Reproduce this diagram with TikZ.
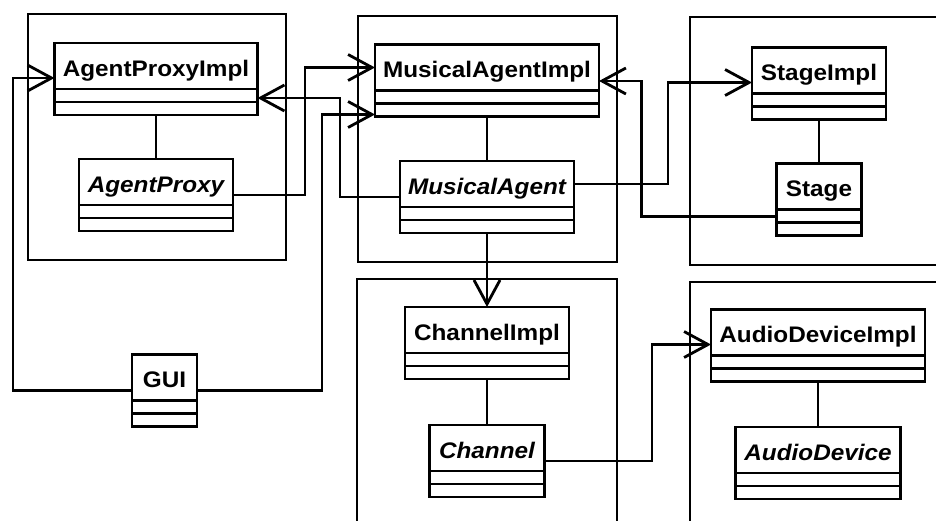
\documentclass[tikz,border=0pt]{standalone}
\usepackage{fontspec}
\setmainfont{Liberation Sans}[FakeStretch=1.08]
\usetikzlibrary{arrows.meta,positioning}

\begin{document}
\begin{tikzpicture}[x=1pt, y=-1pt,
    cls/.style={draw, line width=2.8pt, inner sep=0pt, outer sep=0pt, minimum height=46pt, text height=24pt, text depth=4pt, font=\fontsize{22.5}{24}\selectfont\bfseries},
    iface/.style={cls, font=\fontsize{22.5}{24}\selectfont\bfseries\itshape},
    pkg/.style={line width=2.8pt},
    link/.style={line width=2.8pt},
    arrow/.style={link, -{Straight Barb[length=24pt, width=26pt]}}
]
    \useasboundingbox (0,0) rectangle (936,520);
    \clip (0,0) rectangle (936,520);

    \draw[pkg] (28,14) rectangle (286,260);
    \draw[pkg] (358,16) rectangle (617,262);
    \draw[pkg] (690,17) rectangle (950,265);
    \draw[pkg] (357,279) rectangle (617,540);
    \draw[pkg] (690,282) rectangle (950,540);

    \node[cls, minimum width=203pt] (api) at (156,66) {AgentProxyImpl};
    \node[iface, minimum width=154pt] (ap) at (156,182) {AgentProxy};
    \node[cls, minimum width=224pt] (mai) at (487,67.5) {MusicalAgentImpl};
    \node[iface, minimum width=174pt] (ma) at (487,184) {MusicalAgent};
    \node[cls, minimum width=134pt] (si) at (819,70.5) {StageImpl};
    \node[cls, minimum width=85pt] (st) at (819,186.5) {Stage};
    \node[cls, minimum width=164pt] (ci) at (487,330) {ChannelImpl};
    \node[iface, minimum width=115pt] (ch) at (487,448) {Channel};
    \node[cls, minimum width=214pt] (adi) at (818,332.5) {AudioDeviceImpl};
    \node[iface, minimum width=165pt] (ad) at (818,450) {AudioDevice};
    \node[cls, minimum width=65pt] (gui) at (164.5,377.5) {GUI};

    \foreach \n in {api,ap,mai,ma,si,st,ci,ch,adi,ad,gui} {
        \draw[link] (\n.south west) rectangle ([yshift=-26pt]\n.south east);
        \draw[link] ([yshift=-13pt]\n.south west) -- ([yshift=-13pt]\n.south east);
    }

    \draw[link] ([yshift=-26pt]api.south) -- (ap.north);
    \draw[link] ([yshift=-26pt]mai.south) -- (ma.north);
    \draw[link] ([yshift=-26pt]si.south) -- (st.north);
    \draw[link] ([yshift=-26pt]ci.south) -- (ch.north);
    \draw[link] ([yshift=-26pt]adi.south) -- (ad.north);

    \draw[arrow] ([yshift=-13pt]gui.west) -- ++(-119,0) |- ([yshift=-12pt]api.west);
    \draw[arrow] ([yshift=-13pt]gui.east) -- ++(125,0) |- ([yshift=-47pt]mai.west);
    \draw[arrow] ([yshift=-13pt]ap.east) -- ++(72,0) |- (mai.west);
    \draw[arrow] ([yshift=-13pt]ma.west) -- ++(-60,0) |- ([yshift=-32pt]api.east);
    \draw[arrow] (ma.east) -- ++(94,0) |- ([yshift=-12pt]si.west);
    \draw[arrow] ([yshift=-30pt]st.west) -- ++(-135,0) |- ([yshift=-13.5pt]mai.east);
    \draw[arrow] ([yshift=-26pt]ma.south) -- (ci.north);
    \draw[arrow] ([yshift=-13pt]ch.east) -- ++(107.5,0) |- ([yshift=-12pt]adi.west);
\end{tikzpicture}
\end{document}
